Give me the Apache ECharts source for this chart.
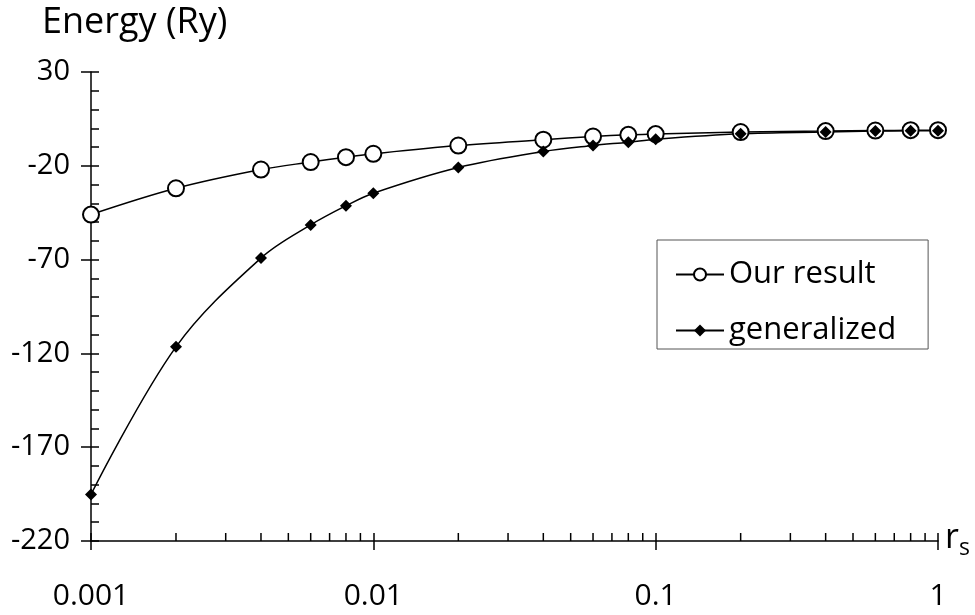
<!DOCTYPE html>
<html>
<head>
<meta charset="utf-8">
<script src="https://cdn.jsdelivr.net/npm/echarts@6/dist/echarts.min.js"></script>
<style>
  html, body { margin: 0; padding: 0; background: #fff; }
  #chart { width: 975px; height: 615px; }
</style>
</head>
<body>
<div id="chart"></div>
<script>
// r_s values (log axis)
var rs = [0.001, 0.002, 0.004, 0.006, 0.008, 0.01, 0.02, 0.04, 0.06, 0.08, 0.1, 0.2, 0.4, 0.6, 0.8, 1];
// energy (Ry)
var ourResult = [-46, -32, -22, -18, -15.4, -13.6, -9.2, -6.1, -4.4, -3.5, -3.1, -2.0, -1.5, -1.2, -1.0, -1.0];
var generalized = [-195.2, -116.5, -69.2, -51.5, -41.3, -34.6, -20.9, -12.4, -9.2, -7.4, -5.8, -2.9, -2.0, -1.5, -1.3, -1.3];

var xTickLabels = ['0.001', '0.01', '0.1', '1'];
var xMinorTicks = [0.002, 0.003, 0.004, 0.005, 0.006, 0.007, 0.008, 0.009,
                   0.02, 0.03, 0.04, 0.05, 0.06, 0.07, 0.08, 0.09,
                   0.2, 0.3, 0.4, 0.5, 0.6, 0.7, 0.8, 0.9];
var yMin = -220, yMax = 30, yStep = 50;

var font = '"Open Sans", "Noto Sans", sans-serif';

function pairs(xs, ys) {
    return xs.map(function (x, i) { return [x, ys[i]]; });
}

var chart = echarts.init(document.getElementById('chart'), null, {renderer: 'canvas'});

var axisLineStyle = {color: '#000', width: 1.5};

chart.setOption({
    backgroundColor: '#fff',
    animation: false,
    title: {
        text: 'Energy (Ry)',
        left: 37,
        top: 0,
        textStyle: {fontFamily: font, fontSize: 36, fontWeight: 'normal', color: '#000'}
    },
    grid: {left: 91, right: 37, top: 72, bottom: 74},
    legend: {
        data: ['Our result', 'generalized'],
        orient: 'vertical',
        left: 657,
        top: 240,
        padding: [19, 32, 3, 18],
        itemGap: 25,
        itemWidth: 48,
        itemHeight: 15,
        borderColor: '#555',
        borderWidth: 1,
        textStyle: {fontFamily: font, fontSize: 31, color: '#000'}
    },
    xAxis: [{
        type: 'log',
        min: 0.001,
        max: 1,
        position: 'bottom',
        axisLine: {onZero: false, lineStyle: axisLineStyle},
        axisTick: {inside: true, length: 8, lineStyle: axisLineStyle},
        axisLabel: {
            margin: 40,
            fontFamily: font,
            fontSize: 30,
            color: '#000',
            formatter: function (v, i) { return xTickLabels[i]; }
        },
        splitLine: {show: false},
        name: '{r|r}{s|s}',
        nameLocation: 'end',
        nameGap: 7,
        nameTextStyle: {
            rich: {
                r: {fontFamily: font, fontSize: 34, color: '#000', padding: [0, 0, 6, 0]},
                s: {fontFamily: font, fontSize: 23, color: '#000', padding: [14, 0, 0, 0]}
            }
        }
    }, {
        type: 'log',
        min: 0.001,
        max: 1,
        position: 'bottom',
        axisLine: {show: false, onZero: false},
        axisTick: {inside: false, length: 9, lineStyle: axisLineStyle},
        axisLabel: {show: false},
        splitLine: {show: false}
    }],
    yAxis: [{
        type: 'value',
        min: yMin,
        max: yMax,
        interval: yStep,
        position: 'left',
        axisLine: {show: true, lineStyle: axisLineStyle},
        axisTick: {show: true, inside: true, length: 8, lineStyle: axisLineStyle},
        minorTick: {show: true, splitNumber: 5, length: 8, lineStyle: axisLineStyle},
        axisLabel: {margin: 21, fontFamily: font, fontSize: 29, color: '#000'},
        splitLine: {show: false}
    }, {
        type: 'value',
        min: yMin,
        max: yMax,
        interval: yStep,
        position: 'left',
        axisLine: {show: false},
        axisTick: {show: true, inside: false, length: 10, lineStyle: axisLineStyle},
        axisLabel: {show: false},
        splitLine: {show: false}
    }],
    series: [{
        name: 'minor ticks',
        type: 'custom',
        xAxisIndex: 0,
        yAxisIndex: 0,
        silent: true,
        data: xMinorTicks.map(function (v) { return [v, yMin]; }),
        renderItem: function (params, api) {
            var p = api.coord([api.value(0), api.value(1)]);
            return {
                type: 'line',
                shape: {x1: p[0], y1: p[1], x2: p[0], y2: p[1] - 8},
                style: {stroke: '#000', lineWidth: 1.5}
            };
        }
    }, {
        name: 'Our result',
        type: 'line',
        data: pairs(rs, ourResult),
        smooth: 0.35,
        symbol: 'emptyCircle',
        symbolSize: 16,
        lineStyle: {color: '#000', width: 1.5},
        itemStyle: {color: '#000', borderColor: '#000', borderWidth: 1.5}
    }, {
        name: 'generalized',
        type: 'line',
        data: pairs(rs, generalized),
        smooth: 0.35,
        symbol: 'diamond',
        symbolSize: 12,
        lineStyle: {color: '#000', width: 1.5},
        itemStyle: {color: '#000'}
    }]
});
</script>
</body>
</html>
